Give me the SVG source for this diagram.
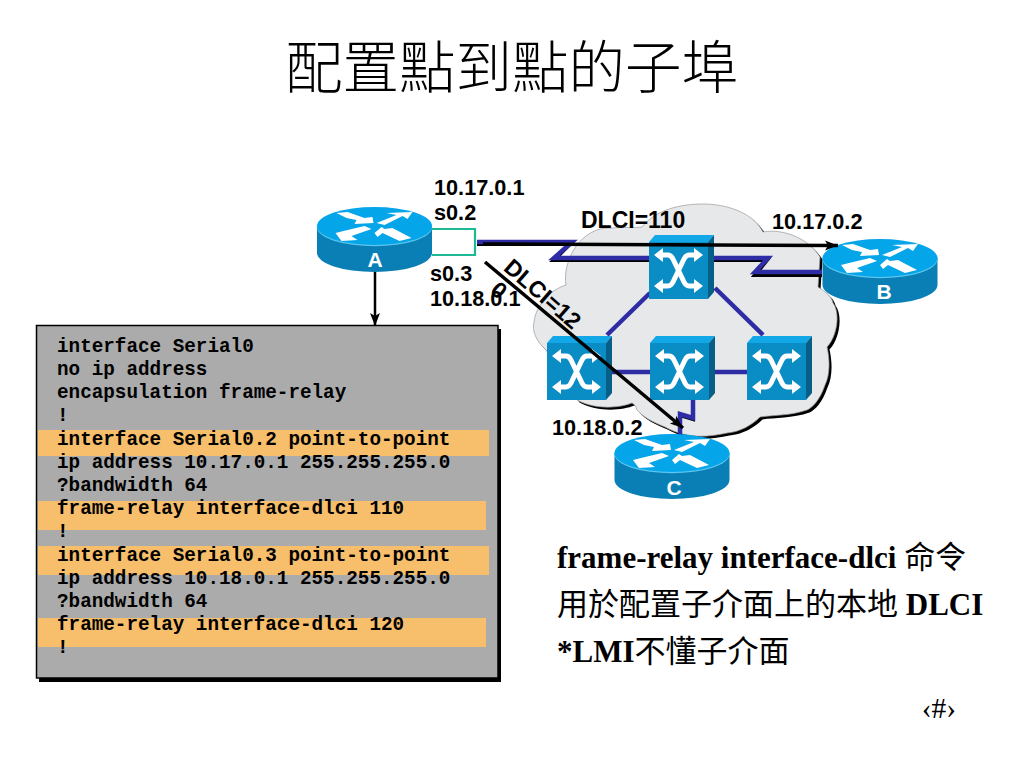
<svg xmlns="http://www.w3.org/2000/svg" xmlns:xlink="http://www.w3.org/1999/xlink" width="1023" height="767" viewBox="0 0 1023 767">
<style>
.lbl{font-family:"Liberation Sans",Arial,sans-serif;font-weight:bold;font-size:21.7px;fill:#000}
.big{font-size:23px}
.nm{font-family:"Liberation Sans",Arial,sans-serif;font-weight:bold;font-size:21px;fill:#fff;text-anchor:middle}
.code{font-family:"Liberation Mono","Courier New",monospace;font-weight:bold;font-size:19.3px;fill:#000}
.body{font-family:"Liberation Serif","Noto Sans CJK TC",serif;font-weight:bold;font-size:31px;fill:#000}
.cjk{font-family:"Noto Sans CJK TC",sans-serif;font-weight:400;font-size:31px}
.bar{fill:#F7BE6B}
.blue{fill:none;stroke:#2F2DA5;stroke-width:4.500;stroke-linejoin:miter}
.bs{fill:none;stroke:#000;stroke-width:4}
.blk{fill:none;stroke:#000;stroke-width:3.500}
</style>
<defs>
<marker id="ah" markerUnits="userSpaceOnUse" markerWidth="14" markerHeight="12" refX="13" refY="5" orient="auto"><path d="M0,0L13,5L0,10L3,5Z" fill="#000"/></marker>
<g id="router">
<path d="M-57.500,0V27A57.500,19 0 0 0 57.500,27V0Z" fill="#0A7FB5"/>
<ellipse cx="0" cy="1.200" rx="57.500" ry="19" fill="#5CC6EE"/>
<ellipse cx="0" cy="0" rx="57.500" ry="19" fill="#05A5EA"/>
<path fill="#fff" d="M-38,-13L-27,-14L-10,-8L-2,-9L-1,-3L-20,-2L-18,-6L-28,-8ZM2,-3L22,-11L12,-13L38,-14L33,-7L28,-10L10,-1ZM-39,7L-31,5L-10,0L-3,3L-23,10L-17,14L-33,15ZM0,7L7,1L10,3L18,2L37,12L25,15L8,7L3,11Z"/>
</g>
<g id="switch">
<path d="M0,0L6,-7H65L59,0Z" fill="#12A8E8"/>
<path d="M59,0L65,-7V50L59,57Z" fill="#075F88"/>
<rect width="59" height="57" fill="#0A8CC4"/>
<path d="M12,13H19Q22,13 24,17L35,40Q37,44 40,44H47M47,13H40Q37,13 35,17L24,40Q22,44 19,44H12" fill="none" stroke="#fff" stroke-width="5"/>
<path fill="#fff" d="M5,13L14,6V20ZM54,13L45,6V20ZM5,44L14,37V51ZM54,44L45,37V51Z"/>
</g>
<path id="cloudp" d="M566,285C562,262 580,226 612,228C622,227 634,228 642,227C655,210 680,204 703,204C730,204 755,215 763,232C785,228 810,240 820,257L818,287C826,292 832,297 833,303C840,312 838,335 827,347C830,360 830,375 825,385C820,400 812,408 807,410C790,416 772,415 760,417C752,425 740,432 727,433C705,438 685,438 665,427C652,422 642,416 637,410C636,406 634,404 632,403C620,408 595,410 577,400L560,375L546,350C535,340 532,330 534,322C536,305 550,290 566,285Z"/>
</defs>
<rect width="1023" height="767" fill="#fff"/>
<text id="title" x="512" y="88" text-anchor="middle" font-family="'Noto Sans CJK TC',sans-serif" font-size="56.500" font-weight="300">配置點到點的子埠</text>

<g id="cloud">
<use href="#cloudp" transform="translate(2.500,2.500)" fill="#000"/>
<use href="#cloudp" fill="#E6E8EA" stroke="#9a9a9a" stroke-width="0.700"/>
</g>

<g id="links">
<path class="bs" d="M477,243H570L554,259H650M714,259H767L755,274H822M693,401V418L680,414V434" transform="translate(0,1)"/>
<path class="blue" d="M477,242H572L554,258H650M714,258H768L755,272H822M693,400V418L680,414V434"/>
<path class="blue" d="M650,293L607,335M715,288L763,335M612,372H650M709,372H747"/>
<path d="M432,229H475V255H432" fill="#fff" stroke="#1FB894" stroke-width="2.200"/>
</g>

<g id="node-a"><use href="#router" x="374.500" y="226"/><text class="nm" x="375" y="267">A</text></g>
<g id="node-b"><use href="#router" x="880" y="258"/><text class="nm" x="884" y="299">B</text></g>
<g id="node-c"><use href="#router" x="672" y="453"/><text class="nm" x="674" y="495">C</text></g>
<g id="sw-top"><use href="#switch" x="649" y="242"/></g>
<g id="sw-left"><use href="#switch" x="547" y="343"/></g>
<g id="sw-mid"><use href="#switch" x="650" y="343"/></g>
<g id="sw-right"><use href="#switch" x="747" y="343"/></g>

<g id="connectors">
<line class="blk" x1="483" y1="244" x2="838" y2="245.500" marker-end="url(#ah)"/>
<line class="blk" x1="485" y1="262" x2="683" y2="428" marker-end="url(#ah)"/>
<line x1="375" y1="272" x2="375" y2="326" stroke="#000" stroke-width="2.500" marker-end="url(#ah)"/>
</g>

<g id="labels">
<text class="lbl" x="434" y="195">10.17.0.1</text>
<text class="lbl" x="434" y="220">s0.2</text>
<text class="lbl big" x="581" y="228">DLCI=110</text>
<text class="lbl" x="772" y="229">10.17.0.2</text>
<text class="lbl" x="430" y="281">s0.3</text>
<text class="lbl" x="430" y="306">10.18.0.1</text>
<text class="lbl big" transform="translate(502.500,269.500) rotate(41)">DLCI=12</text>
<text class="lbl big" transform="translate(489,292) rotate(41)">0</text>
<text class="lbl" x="552" y="435">10.18.0.2</text>
</g>

<g id="config">
<rect x="39" y="329" width="462" height="353" fill="#000"/>
<rect x="36.500" y="325.500" width="461.500" height="352.500" fill="#ABABAB" stroke="#000" stroke-width="1.500"/>
<rect class="bar" x="38" y="430" width="451" height="26"/>
<rect class="bar" x="38" y="501" width="448" height="29"/>
<rect class="bar" x="38" y="546" width="451" height="29"/>
<rect class="bar" x="38" y="618" width="448" height="29"/>
<text class="code" x="57" y="352">interface Serial0</text>
<text class="code" x="57" y="375">no ip address</text>
<text class="code" x="57" y="398">encapsulation frame-relay</text>
<text class="code" x="57" y="421">!</text>
<text class="code" x="57" y="445">interface Serial0.2 point-to-point</text>
<text class="code" x="57" y="468">ip address 10.17.0.1 255.255.255.0</text>
<text class="code" x="57" y="491">?bandwidth 64</text>
<text class="code" x="57" y="514">frame-relay interface-dlci 110</text>
<text class="code" x="57" y="537">!</text>
<text class="code" x="57" y="561">interface Serial0.3 point-to-point</text>
<text class="code" x="57" y="584">ip address 10.18.0.1 255.255.255.0</text>
<text class="code" x="57" y="607">?bandwidth 64</text>
<text class="code" x="57" y="630">frame-relay interface-dlci 120</text>
<text class="code" x="57" y="653">!</text>
</g>

<g id="notes">
<text class="body" x="557" y="568">frame-relay interface-dlci <tspan class="cjk">命令</tspan></text>
<text class="body" x="557" y="615"><tspan class="cjk">用於配置子介面上的本地</tspan> DLCI</text>
<text class="body" x="557" y="662">*LMI<tspan class="cjk">不懂子介面</tspan></text>
<text x="939" y="718" text-anchor="middle" font-family="'Liberation Serif',serif" font-size="29.500">‹#›</text>
</g>
</svg>
